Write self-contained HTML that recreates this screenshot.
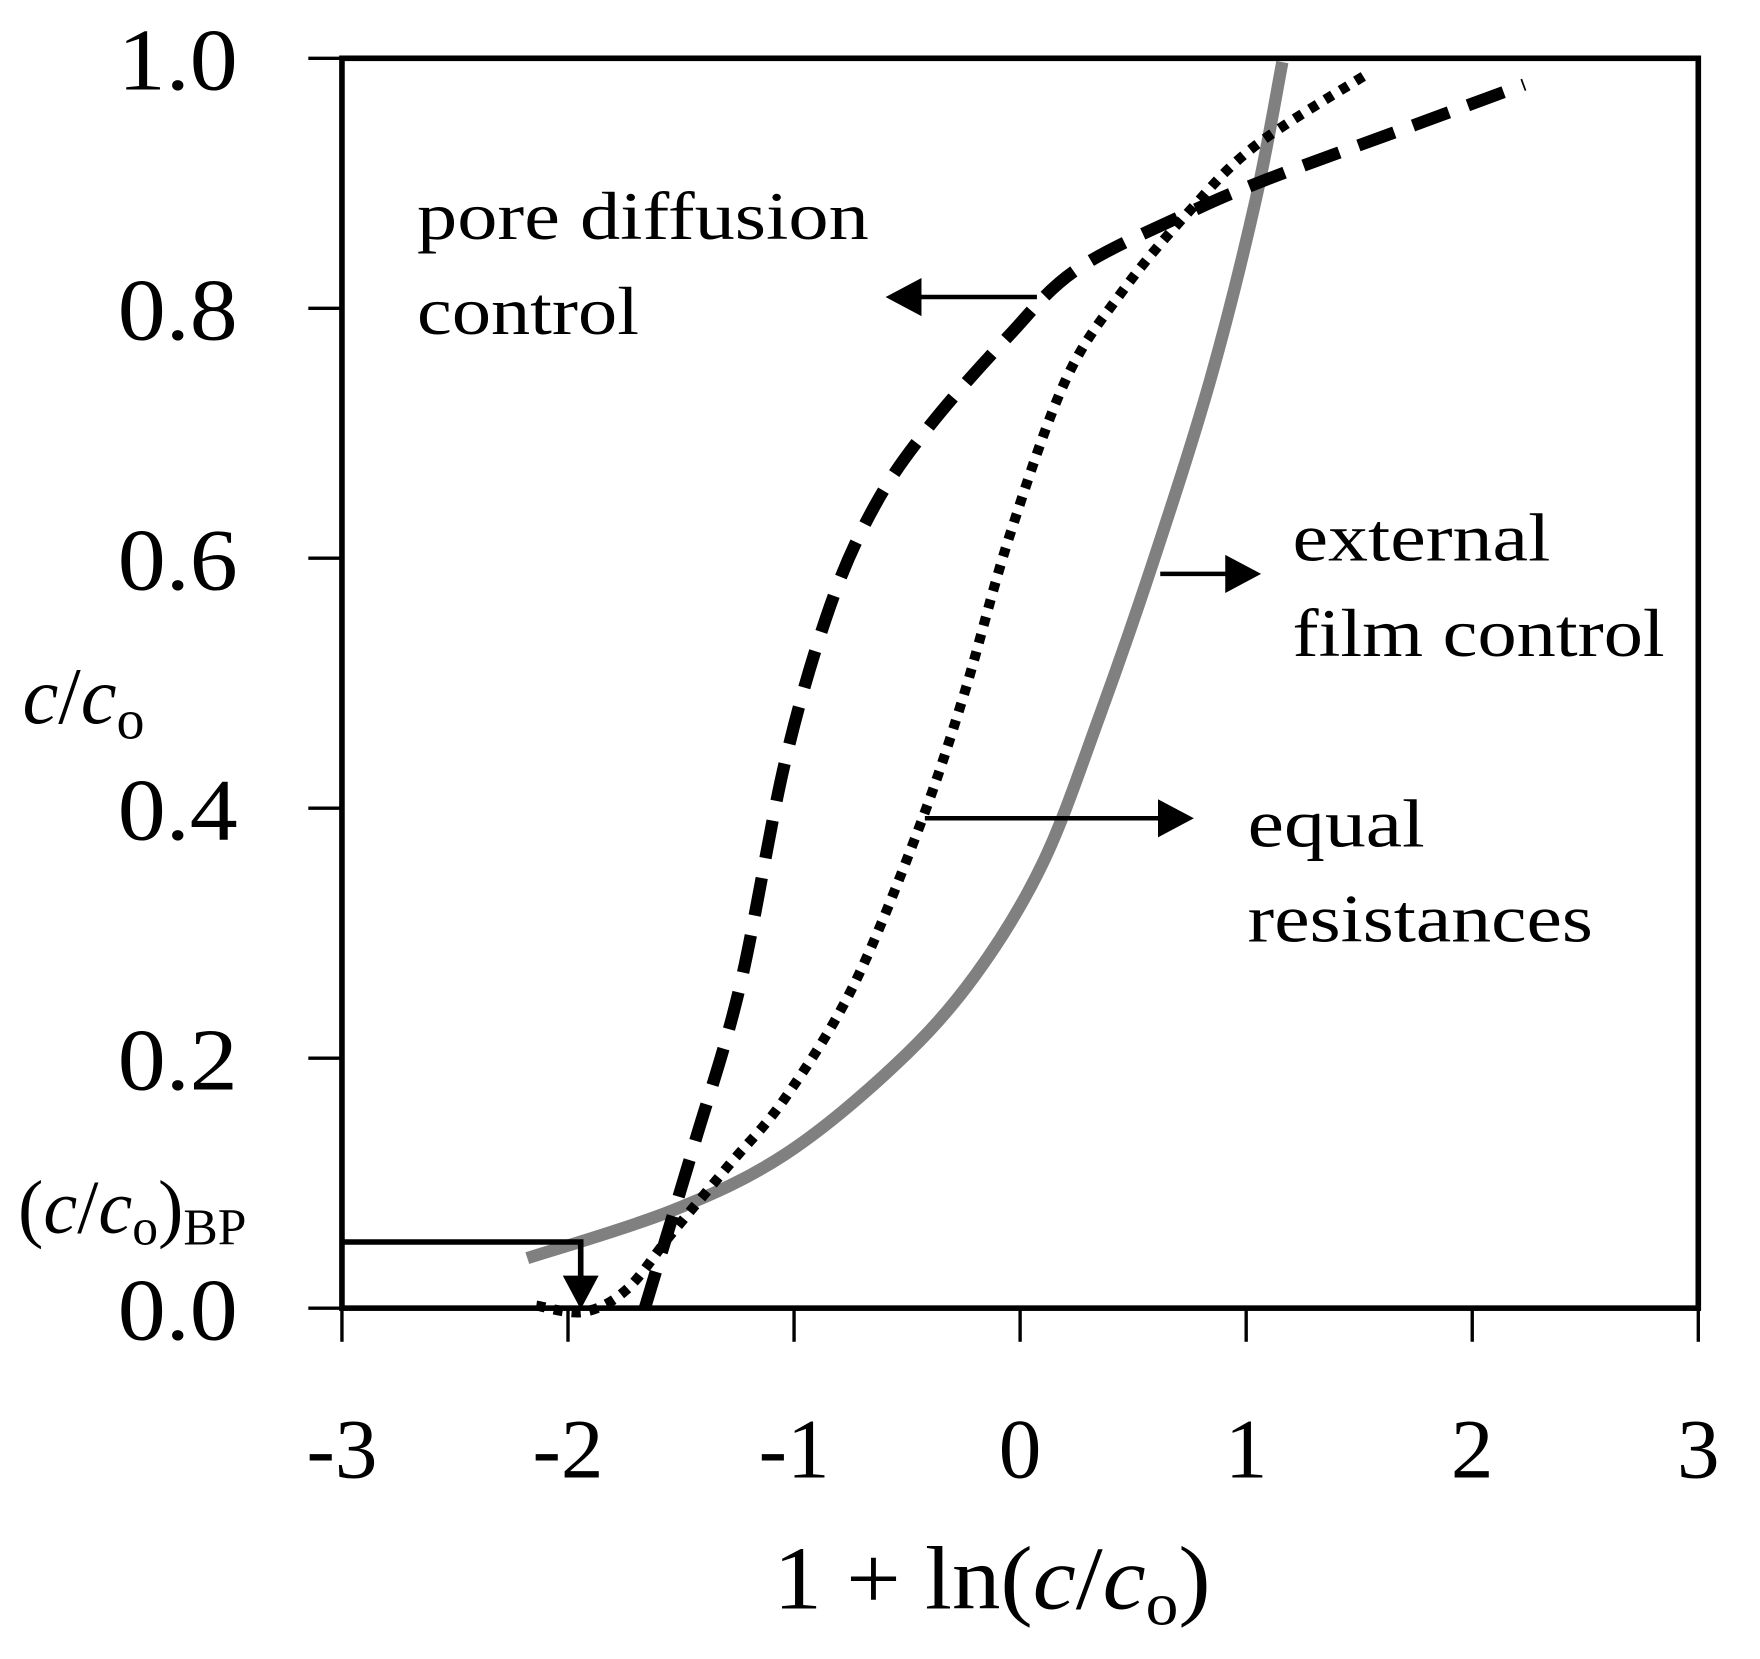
<!DOCTYPE html>
<html><head><meta charset="utf-8"><style>
html,body{margin:0;padding:0;background:#fff;}
svg{display:block;}
text{font-family:"Liberation Serif",serif;fill:#000;}
</style></head><body>
<svg id="chart" width="1760" height="1659" viewBox="0 0 1570 1480" xmlns="http://www.w3.org/2000/svg">
<rect x="0" y="0" width="1570" height="1480" fill="#fff"/>
<g id="marks"></g>
<g id="axes"></g>
<g>
<text x="372" y="213" font-size="60" textLength="403" lengthAdjust="spacingAndGlyphs">pore diffusion</text>
<text x="372" y="298" font-size="60" textLength="198" lengthAdjust="spacingAndGlyphs">control</text>
<text x="1153" y="500" font-size="60" textLength="230" lengthAdjust="spacingAndGlyphs">external</text>
<text x="1153" y="585" font-size="60" textLength="332" lengthAdjust="spacingAndGlyphs">film control</text>
<text x="1113" y="755" font-size="60" textLength="158" lengthAdjust="spacingAndGlyphs">equal</text>
<text x="1113" y="840" font-size="60" textLength="308" lengthAdjust="spacingAndGlyphs">resistances</text>
<line x1="925" y1="265" x2="815" y2="265" stroke="#000" stroke-width="4"/>
<polygon points="790,265 822,248 822,282" fill="#000"/>
<line x1="1035" y1="512" x2="1100" y2="512" stroke="#000" stroke-width="4"/>
<polygon points="1125,512 1093,495 1093,529" fill="#000"/>
<line x1="825" y1="730" x2="1040" y2="730" stroke="#000" stroke-width="4"/>
<polygon points="1065,730 1033,713 1033,747" fill="#000"/>
<polyline points="305,1108 518,1108 518,1145" fill="none" stroke="#000" stroke-width="5"/>
<polygon points="518,1168 502,1138 534,1138" fill="#000"/>
<text x="20" y="645" font-size="72"><tspan font-style="italic">c</tspan>/<tspan font-style="italic">c</tspan><tspan font-size="50" dy="14">o</tspan></text>
<text x="16" y="1100" font-size="68">(<tspan font-style="italic">c</tspan>/<tspan font-style="italic">c</tspan><tspan font-size="46" dy="10">o</tspan><tspan dy="-10">)</tspan><tspan font-size="46" dy="10">BP</tspan></text>
<text x="690" y="1435" font-size="80" textLength="390" lengthAdjust="spacingAndGlyphs">1 + ln(<tspan font-style="italic">c</tspan>/<tspan font-style="italic">c</tspan><tspan font-size="54" dy="14">o</tspan><tspan dy="-14">)</tspan></text>
</g>
</svg>
<script>
var xTicks=[-3,-2,-1,0,1,2,3];
var yTicks=[0,0.2,0.4,0.6,0.8,1.0];
var yTickLabels=["0.0","0.2","0.4","0.6","0.8","1.0"];
var filmX=[-2.18,-1.54,-1.04,-0.55,-0.2,0.10,0.35,0.59,0.84,1.04,1.16];
var filmY=[0.04,0.078,0.123,0.195,0.266,0.356,0.473,0.598,0.742,0.885,0.997];
var equalX=[-2.14,-1.93,-1.74,-1.54,-1.29,-1.04,-0.74,-0.45,-0.25,-0.05,0.2,0.45,0.74,1.04,1.54];
var equalY=[0.002,-0.003,0.015,0.06,0.114,0.168,0.257,0.383,0.49,0.616,0.742,0.813,0.876,0.93,0.988];
var poreX=[-1.66,-1.59,-1.44,-1.24,-1.04,-0.84,-0.64,-0.40,-0.05,0.25,0.74,1.09,1.69,2.23];
var poreY=[0,0.042,0.132,0.257,0.437,0.562,0.643,0.706,0.778,0.831,0.876,0.903,0.943,0.979];

var X0=305,X1=1515,Y0=1167,Y1=52;
function sx(v){return X0+(v+3)/6*(X1-X0);}
function sy(v){return Y0-v*(Y0-Y1);}
var NS="http://www.w3.org/2000/svg";
function mk(tag,attrs,parent){var e=document.createElementNS(NS,tag);for(var k in attrs)e.setAttribute(k,attrs[k]);parent.appendChild(e);return e;}
function smooth(xs,ys){
  var p=xs.map(function(x,i){return [sx(x),sy(ys[i])];});
  var d="M"+p[0][0]+","+p[0][1];
  for(var i=0;i<p.length-1;i++){
    var a=p[i-1]||p[i],b=p[i],c=p[i+1],e=p[i+2]||c;
    d+=" C"+(b[0]+(c[0]-a[0])/6)+","+(b[1]+(c[1]-a[1])/6)+" "+(c[0]-(e[0]-b[0])/6)+","+(c[1]-(e[1]-b[1])/6)+" "+c[0]+","+c[1];
  }
  return d;
}
var marks=document.getElementById('marks');
var axes=document.getElementById('axes');

var g1=mk('path',{d:smooth(filmX,filmY),fill:'none',stroke:'#808080','stroke-width':11},marks);


var g2=mk('path',{d:smooth(equalX,equalY),fill:'none',stroke:'#000','stroke-width':9,'stroke-dasharray':'8 8'},marks);


var g3=mk('path',{d:smooth(poreX,poreY),fill:'none',stroke:'#000','stroke-width':11,'stroke-dasharray':'34 18'},marks);



var frame=mk('rect',{x:X0,y:Y1,width:X1-X0,height:Y0-Y1,fill:'none',stroke:'#000','stroke-width':5},axes);


xTicks.forEach(function(v){
  var t=mk('line',{x1:sx(v),x2:sx(v),y1:Y0,y2:Y0+30,stroke:'#000','stroke-width':3},axes);
  
  
  var l=mk('text',{x:sx(v),y:1318,'font-size':76,'text-anchor':'middle'},axes);
  l.textContent=String(v);
  
  
});
yTicks.forEach(function(v,i){
  var t=mk('line',{x1:X0-30,x2:X0,y1:sy(v),y2:sy(v),stroke:'#000','stroke-width':3},axes);
  
  
  var l=mk('text',{x:105,y:sy(v)+28,'font-size':78,textLength:107,lengthAdjust:'spacingAndGlyphs'},axes);
  l.textContent=yTickLabels[i];
  
  
});
</script>
</body></html>
